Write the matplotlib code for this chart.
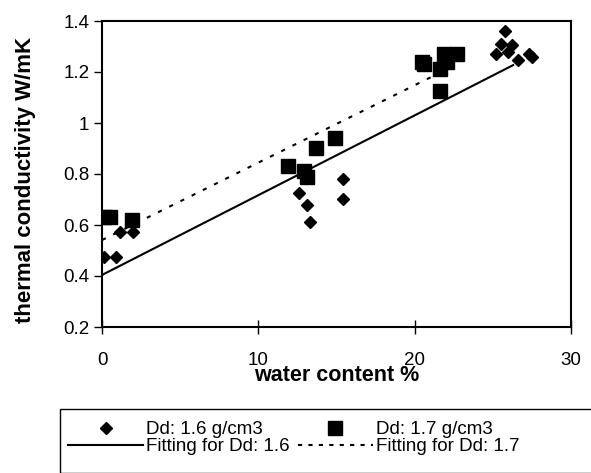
import matplotlib.pyplot as plt
from matplotlib.lines import Line2D
from matplotlib.patches import Rectangle

plt.rcParams['font.family'] = ['Liberation Sans', 'DejaVu Sans']

# Dd = 1.6 g/cm3 (diamonds)
wc_16 = [0.1, 0.9, 1.15, 2.0, 12.6, 13.1, 13.3, 15.4, 15.4,
         25.2, 25.5, 25.8, 26.0, 26.2, 26.6, 27.3, 27.5]
k_16 = [0.476, 0.476, 0.571, 0.571, 0.724, 0.68, 0.61, 0.78, 0.70,
        1.27, 1.31, 1.36, 1.28, 1.305, 1.247, 1.27, 1.26]

# Dd = 1.7 g/cm3 (squares)
wc_17 = [0.1, 0.5, 1.9, 11.9, 12.9, 13.1, 13.7, 14.9,
         20.45, 20.6, 21.6, 21.6, 21.9, 22.1, 22.7]
k_17 = [0.633, 0.63, 0.62, 0.83, 0.81, 0.79, 0.90, 0.94,
        1.24, 1.23, 1.21, 1.127, 1.27, 1.24, 1.27]

# linear fits
fit16_x = [0, 26.3]
fit16_y = [0.404, 1.227]
fit17_x = [0, 22.6]
fit17_y = [0.541, 1.227]

W, H = 591, 473
fig = plt.figure(figsize=(W / 100, H / 100), dpi=100)
ax = fig.add_axes([102 / W, 1 - 327 / H, 469 / W, 306 / H])

ax.plot(fit16_x, fit16_y, color='black', lw=1.5)
ax.plot(fit17_x, fit17_y, color='black', lw=1.5, linestyle=(0, (2, 4)))
ax.plot(wc_16, k_16, 'D', color='black', ms=6.5, mec='black')
ax.plot(wc_17, k_17, 's', color='black', ms=10, mec='black')

ax.set_xlim(0, 30)
ax.set_ylim(0.2, 1.4)
ax.set_xticks([0, 10, 20, 30])
ax.set_xticklabels(['0', '10', '20', '30'])
ax.set_yticks([0.2, 0.4, 0.6, 0.8, 1.0, 1.2, 1.4])
ax.set_yticklabels(['0.2', '0.4', '0.6', '0.8', '1', '1.2', '1.4'])
ax.tick_params(axis='x', direction='inout', length=10, width=1, labelsize=13.5, pad=13)
ax.tick_params(axis='y', direction='out', length=6, width=1, labelsize=13.5, pad=3)
for s in ax.spines.values():
    s.set_linewidth(1.5)

# the x label sits over the "20" tick label, as in the original
ax.set_xlabel('water content %', fontsize=15.5, fontweight='bold')
ax.xaxis.set_label_coords(0.5, -0.125)
ax.set_ylabel('thermal conductivity W/mK', fontsize=16, fontweight='bold')
ax.yaxis.set_label_coords(-0.14, 0.48)

handles = [
    Line2D([], [], marker='D', color='black', ls='none', ms=6.5),
    Line2D([], [], color='black', lw=1.5),
    Line2D([], [], marker='s', color='black', ls='none', ms=10),
    Line2D([], [], color='black', lw=1.5, ls=(0, (2, 3))),
]
labels = ['Dd: 1.6 g/cm3', 'Fitting for Dd: 1.6', 'Dd: 1.7 g/cm3', 'Fitting for Dd: 1.7']
leg = fig.legend(handles, labels, loc='upper left', ncol=2,
                 bbox_to_anchor=(68 / W, 1 - 421 / H),
                 fontsize=13.5, frameon=False, handlelength=4.0,
                 handletextpad=0.15, labelspacing=0.0, borderpad=0,
                 columnspacing=0.45, borderaxespad=0)
# legend box runs off the right and bottom edges
fig.add_artist(Rectangle((60 / W, 0), 560 / W, 1 - 409 / H,
                         transform=fig.transFigure, fill=False,
                         edgecolor='black', lw=1))

fig.savefig('out.png', dpi=100)
